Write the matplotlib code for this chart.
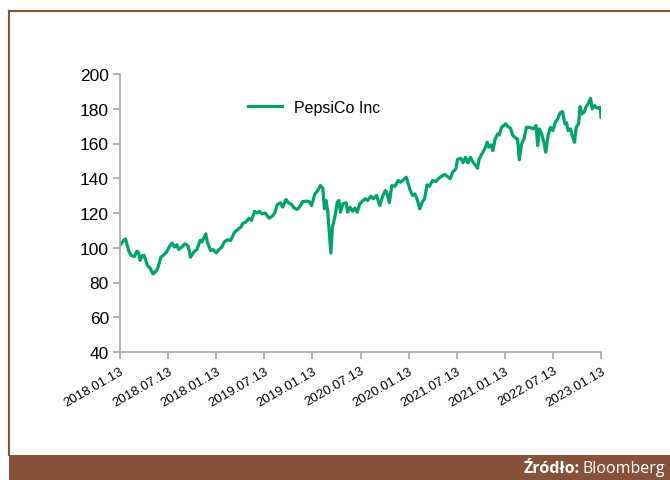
import matplotlib
matplotlib.use("Agg")
import matplotlib.pyplot as plt
from matplotlib.lines import Line2D
from matplotlib.patches import Rectangle

# months since 2018.01.13
months = [0.0, 0.5, 0.7, 1.1, 1.4, 1.8, 2.1, 2.3, 2.5, 2.8, 3.0, 3.4, 3.8, 4.1, 4.3, 4.7,
          5.1, 5.4, 5.8, 6.2, 6.5, 6.8, 7.1, 7.3, 7.7, 8.1, 8.5, 8.8, 9.2, 9.6, 10.0,
          10.2, 10.5, 10.7, 10.9, 11.3, 11.6, 12.0, 12.3, 12.7, 13.0, 13.4, 13.8, 14.3,
          14.7, 15.1, 15.3, 15.7, 16.1, 16.4, 16.8, 17.1, 17.4, 17.7, 18.1, 18.6, 19.0,
          19.3, 19.6, 20.0, 20.3, 20.7, 21.0, 21.4, 21.7, 22.1, 22.4, 22.8, 23.2, 23.6,
          23.9, 24.3, 24.6, 25.0, 25.3, 25.5, 25.7, 25.9, 26.1, 26.3, 26.5, 26.8, 27.1,
          27.3, 27.5, 27.8, 28.2, 28.4, 28.7, 29.0, 29.3, 29.6, 29.9, 30.2, 30.6, 30.9,
          31.3, 31.6, 32.0, 32.4, 32.8, 33.1, 33.3, 33.6, 33.9, 34.3, 34.7, 35.0, 35.4,
          35.7, 36.0, 36.2, 36.5, 36.8, 37.1, 37.4, 37.7, 38.0, 38.3, 38.6, 39.0, 39.4,
          39.7, 40.1, 40.5, 40.8, 41.2, 41.5, 41.9, 42.1, 42.5, 42.8, 43.1, 43.4, 43.7,
          44.1, 44.3, 44.6, 44.8, 45.2, 45.5, 45.8, 46.0, 46.3, 46.5, 46.8, 47.1, 47.3,
          47.6, 48.1, 48.4, 48.7, 49.0, 49.4, 49.6, 49.8, 50.1, 50.4, 50.7, 51.1, 51.4,
          51.6, 51.9, 52.1, 52.3, 52.6, 52.9, 53.1, 53.4, 53.7, 54.0, 54.3, 54.6, 54.9,
          55.2, 55.5, 55.7, 55.9, 56.2, 56.4, 56.7, 56.9, 57.2, 57.4, 57.6, 57.9, 58.1,
          58.5, 58.7, 58.9, 59.2, 59.4, 59.6, 59.9, 60.0]

prices = [101.5, 104.5, 105.0, 98.0, 95.6, 95.0, 98.0, 97.5, 92.7, 95.6, 95.6, 90.0, 88.0,
          85.0, 85.5, 88.0, 94.6, 95.6, 97.5, 101.0, 102.7, 100.4, 101.7, 99.0, 100.4,
          102.3, 101.0, 94.6, 97.5, 99.0, 104.2, 103.3, 106.0, 108.0, 103.0, 98.4, 99.0,
          97.0, 98.8, 100.4, 103.3, 104.6, 104.2, 109.0, 110.5, 112.0, 114.0, 114.8, 117.0,
          115.7, 121.0, 120.0, 121.0, 119.5, 120.0, 117.0, 118.2, 120.0, 124.7, 125.9,
          123.4, 127.8, 125.9, 124.9, 123.0, 122.0, 123.4, 126.6, 126.8, 126.6, 124.3,
          131.0, 132.4, 135.8, 134.3, 122.4, 127.2, 121.5, 109.0, 96.9, 111.9, 117.6,
          126.2, 127.2, 120.5, 125.3, 125.9, 120.5, 123.4, 121.0, 122.8, 120.5, 125.3,
          126.6, 128.2, 127.2, 129.7, 128.2, 130.1, 124.3, 130.1, 133.0, 131.6, 125.9,
          135.8, 135.4, 138.7, 137.7, 139.3, 140.6, 136.2, 133.0, 130.1, 131.0, 127.2,
          122.4, 126.2, 128.2, 136.2, 135.4, 138.7, 138.1, 139.7, 141.2, 142.1, 141.2,
          139.7, 143.5, 145.4, 150.8, 151.5, 148.9, 152.1, 148.9, 152.1, 148.9, 147.7,
          145.8, 151.1, 154.4, 156.9, 160.7, 157.9, 159.2, 155.9, 162.6, 165.5, 164.9,
          169.3, 171.3, 169.7, 168.8, 164.6, 163.0, 162.6, 150.6, 159.8, 162.6, 169.3,
          169.3, 168.8, 168.4, 170.3, 158.8, 168.4, 165.5, 160.3, 155.0, 164.6, 169.3,
          167.4, 172.2, 174.1, 177.6, 178.4, 171.3, 171.9, 167.4, 168.4, 164.6, 160.7,
          169.3, 171.3, 181.2, 177.0, 178.0, 180.8, 183.7, 186.0, 179.9, 181.8, 180.8,
          180.3, 180.8, 175.1]

tick_pos = [0, 6, 12, 18, 24, 30, 36, 42, 48, 54, 60]
tick_labels = ["2018.01.13", "2018.07.13", "2018.01.13", "2019.07.13", "2019.01.13",
               "2020.07.13", "2020.01.13", "2021.07.13", "2021.01.13", "2022.07.13",
               "2023.01.13"]
y_ticks = [40, 60, 80, 100, 120, 140, 160, 180, 200]
series_name = "PepsiCo Inc"

GREEN = "#00A36C"
BROWN = "#87523A"
GRAY = "#A6A6A6"

fig = plt.figure(figsize=(6.7, 4.81), dpi=100)
W, H = 670, 481
ax = fig.add_axes([120 / W, 1 - 353 / H, (601 - 120) / W, (353 - 75) / H])

ax.plot(months, prices, color=GREEN, lw=2.3, label=series_name, solid_joinstyle="round")
ax.set_xlim(0, 60)
ax.set_ylim(40, 200)
ax.set_xticks(tick_pos)
ax.set_xticklabels(tick_labels, rotation=30, ha="right", rotation_mode="anchor",
                   fontsize=9.5, family="Liberation Sans")
ax.set_yticks(y_ticks)
ax.set_yticklabels([str(v) for v in y_ticks], fontsize=12.5, family="Liberation Sans")
for s in ["top", "right"]:
    ax.spines[s].set_visible(False)
for s in ["left", "bottom"]:
    ax.spines[s].set_color(GRAY)
    ax.spines[s].set_linewidth(1.2)
ax.tick_params(axis="both", color=GRAY, length=5, width=1.2, direction="out")
ax.tick_params(axis="x", pad=4)
ax.tick_params(axis="y", pad=3)

leg = ax.legend(loc="center left", bbox_to_anchor=(240 / W, 1 - 108 / H),
                bbox_transform=fig.transFigure, frameon=False, borderpad=0,
                handlelength=2.1, handletextpad=0.75,
                prop={"family": "Liberation Sans", "size": 11.5})

# frame
fig.add_artist(Line2D([9 / W, 1], [1 - 12 / H, 1 - 12 / H], color=BROWN, lw=1.5,
                      transform=fig.transFigure))
fig.add_artist(Line2D([9 / W, 9 / W], [1 - 12 / H, 1 - 456 / H], color=BROWN, lw=1.5,
                      transform=fig.transFigure))
fig.add_artist(Rectangle((8.5 / W, 0), 1, 25 / H, transform=fig.transFigure,
                         facecolor=BROWN, edgecolor="none"))
t1 = fig.text(665 / W, 1 - 469 / H, "Bloomberg", color="white", ha="right", va="center",
              fontsize=11.5, family="Open Sans")
fig.canvas.draw()
bb = t1.get_window_extent()
fig.text(bb.x0 - 3, bb.y0 + bb.height / 2, "Źródło:", color="white", ha="right",
         va="center", fontsize=11.5, family="Open Sans", fontweight="bold",
         transform=None)

fig.savefig("out.png", dpi=100)
